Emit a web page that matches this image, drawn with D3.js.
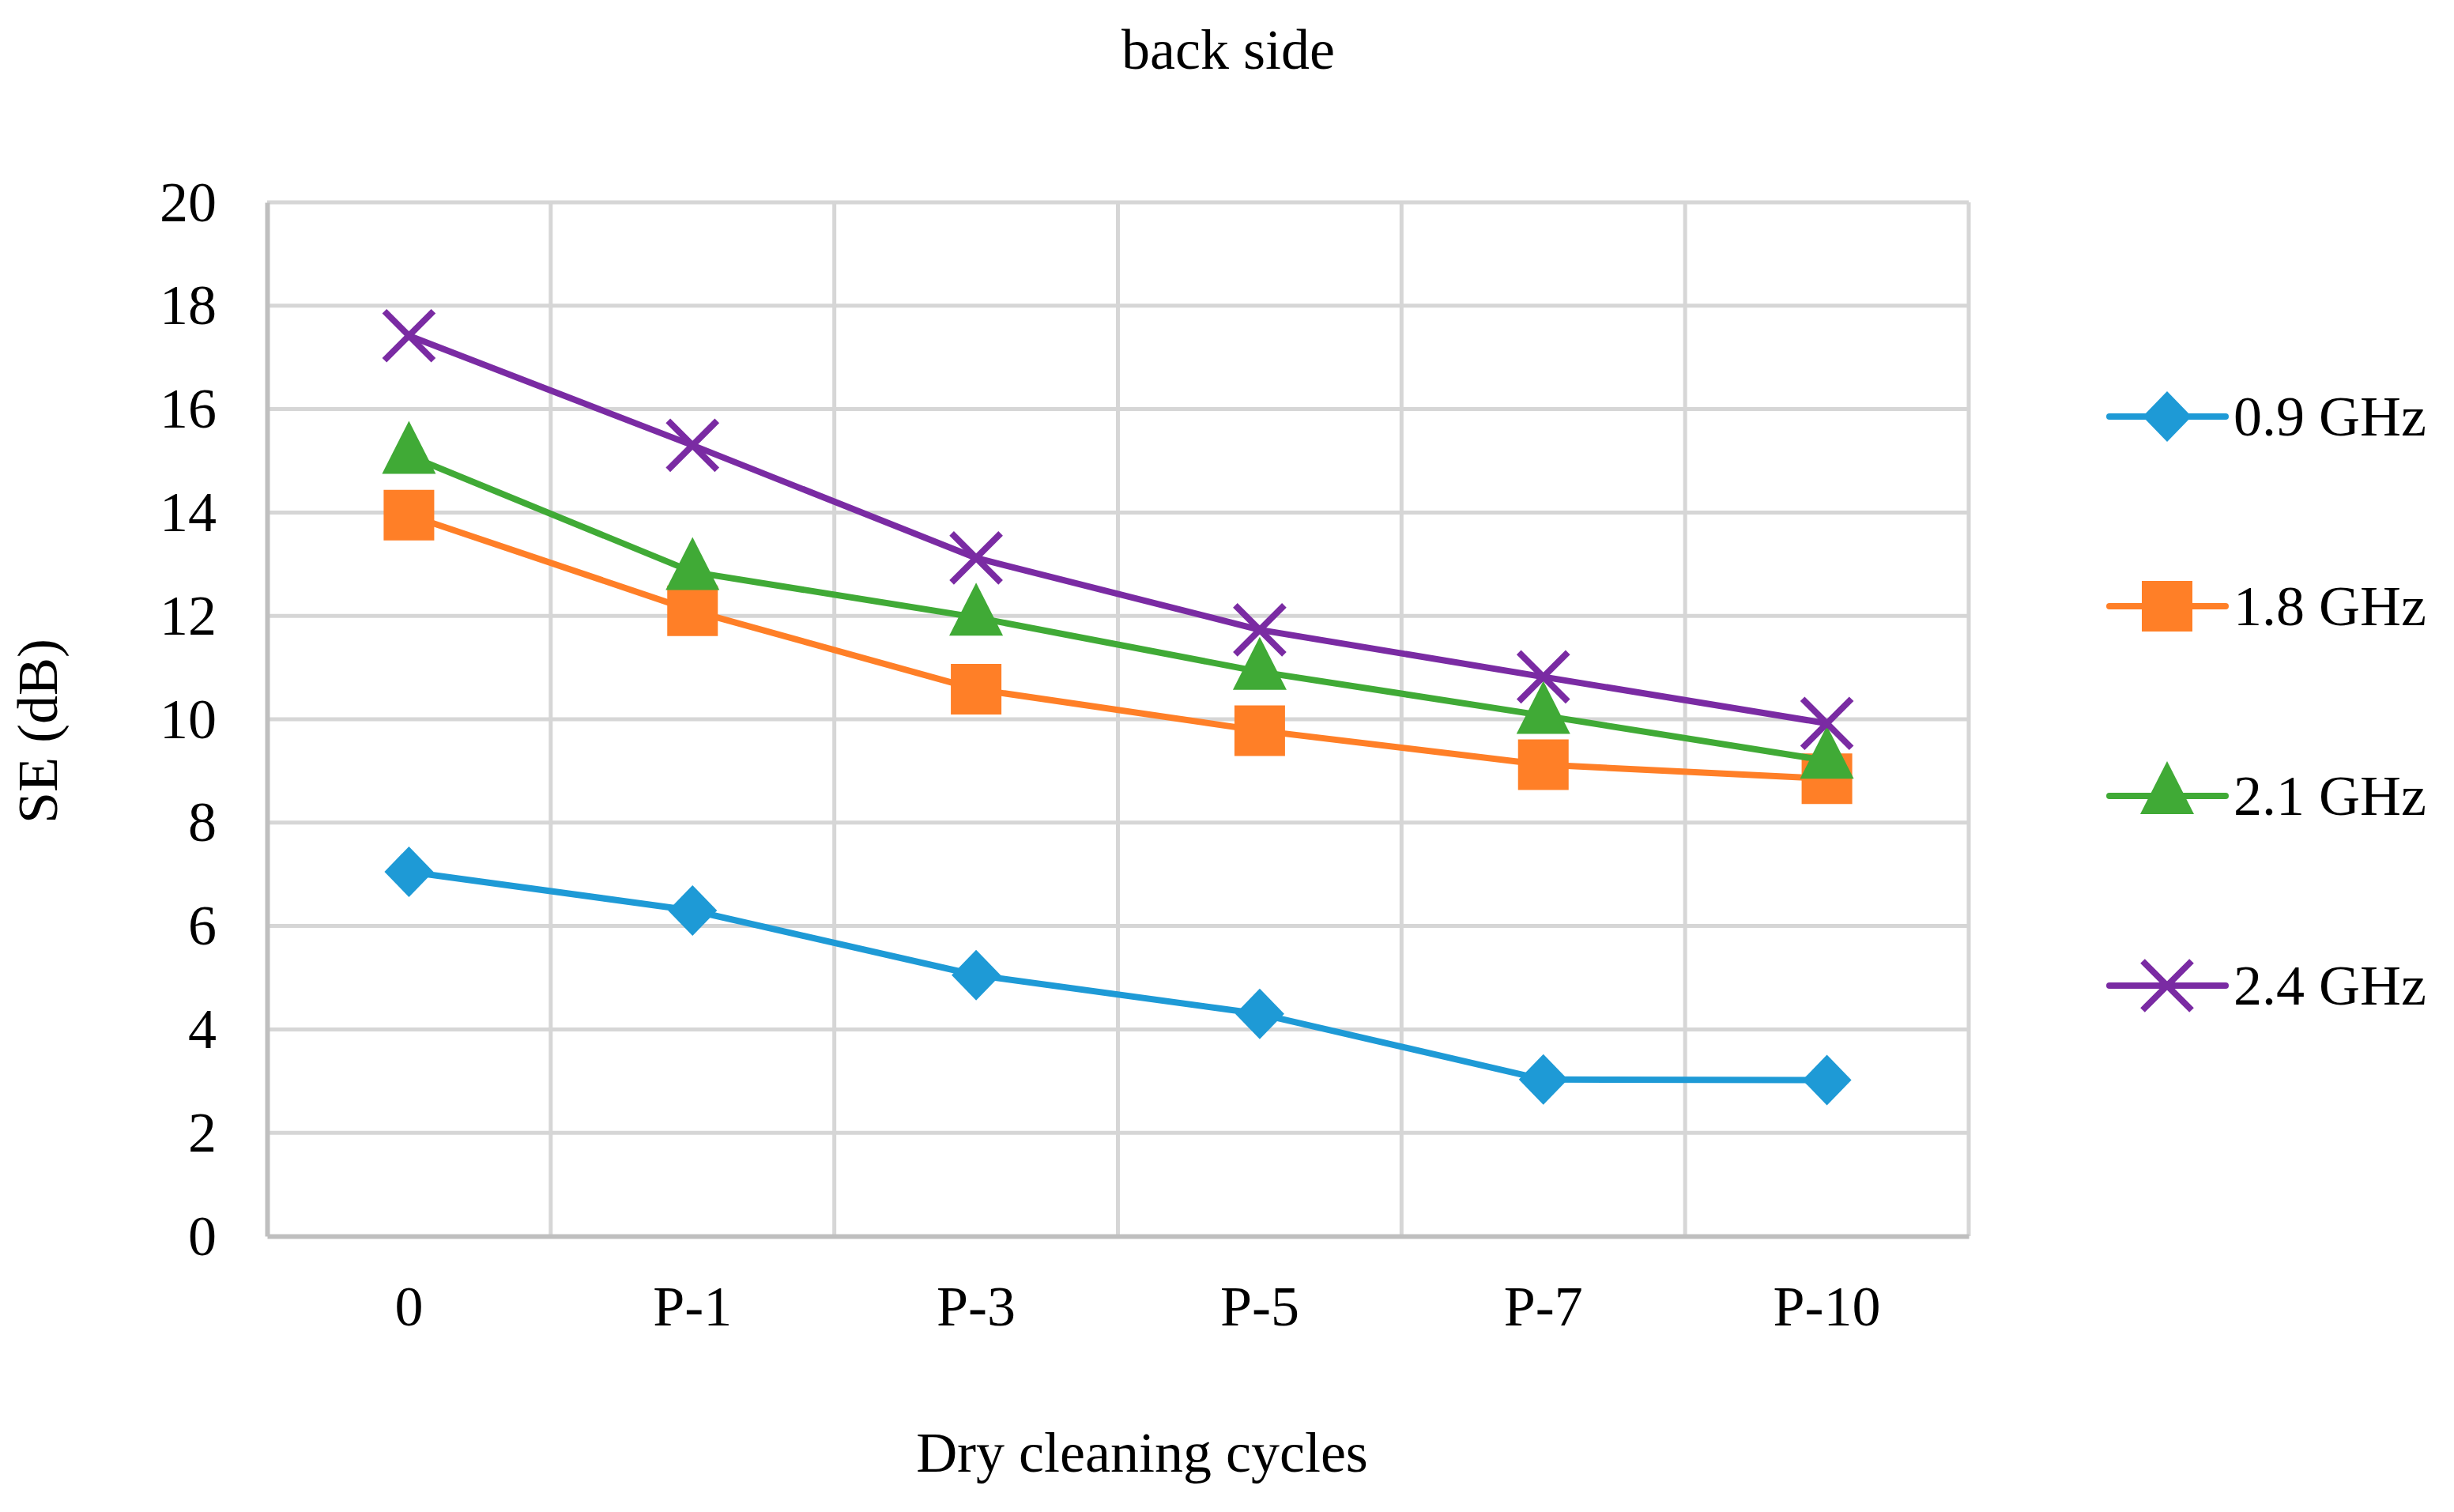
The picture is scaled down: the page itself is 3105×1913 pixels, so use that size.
<!DOCTYPE html>
<html>
<head>
<meta charset="utf-8">
<script src="https://cdn.jsdelivr.net/npm/d3@7"></script>
<style>
    body { margin: 0; background: #fff; }
    svg { display: block; font-family: "Liberation Serif", "Times New Roman", serif; }
</style>
</head>
<body>
<svg></svg>
<script>
// data
const cycles = ['0', 'P-1', 'P-3', 'P-5', 'P-7', 'P-10']
const seriesNames = ['0.9 GHz', '1.8 GHz', '2.1 GHz', '2.4 GHz']
const se09 = [7.05, 6.3, 5.05, 4.3, 3.03, 3.02]
const se18 = [13.95, 12.1, 10.58, 9.78, 9.12, 8.85]
const se21 = [15.1, 12.85, 11.97, 10.92, 10.07, 9.2]
const se24 = [17.42, 15.3, 13.12, 11.73, 10.82, 9.92]
const yTicks = [0, 2, 4, 6, 8, 10, 12, 14, 16, 18, 20]

const width = 3105,
    height = 1913

const svg = d3.select('svg').attr('width', width).attr('height', height)

const margin = { left: 338, right: 2491, top: 256, bottom: 1564 }

const series = [
    { name: seriesNames[0], values: se09, color: '#1E9AD6', symbol: 'diamond' },
    { name: seriesNames[1], values: se18, color: '#FF7F27', symbol: 'square' },
    { name: seriesNames[2], values: se21, color: '#40AA36', symbol: 'triangle' },
    { name: seriesNames[3], values: se24, color: '#7A2BA3', symbol: 'cross' }
]

const x = d3.scaleBand().domain(cycles).range([margin.left, margin.right])
const y = d3.scaleLinear().domain([0, 20]).range([margin.bottom, margin.top])
const cx = d => x(d) + x.bandwidth() / 2

// grid
const grid = svg.append('g')
grid.selectAll('line.h')
    .data(yTicks.slice(1))
    .enter().append('line')
    .attr('x1', margin.left).attr('x2', margin.right)
    .attr('y1', d => y(d)).attr('y2', d => y(d))
    .attr('stroke', '#d6d6d6').attr('stroke-width', 5)
grid.selectAll('line.v')
    .data(cycles.slice(1).map(c => x(c)).concat([margin.right]))
    .enter().append('line')
    .attr('x1', d => d).attr('x2', d => d)
    .attr('y1', margin.top).attr('y2', margin.bottom)
    .attr('stroke', '#d6d6d6').attr('stroke-width', 5)

// axes
const yAxis = svg.append('g')
    .attr('transform', 'translate(' + margin.left + ',0)')
    .call(d3.axisLeft(y).tickValues(yTicks).tickSize(0).tickPadding(64))
    .attr('font-family', null)
yAxis.select('.domain').attr('stroke', '#bfbfbf').attr('stroke-width', 6)
yAxis.selectAll('text').attr('font-size', 72).attr('fill', '#000')

const xAxis = svg.append('g')
    .attr('transform', 'translate(0,' + margin.bottom + ')')
    .call(d3.axisBottom(x).tickSize(0).tickPadding(62))
    .attr('font-family', null)
xAxis.select('.domain').attr('stroke', '#bfbfbf').attr('stroke-width', 6)
xAxis.selectAll('text').attr('font-size', 72).attr('fill', '#000')

function symbolPath(kind) {
    if (kind === 'diamond') return 'M0,-32L31,0L0,32L-31,0Z'
    if (kind === 'square') return 'M-32,-32H32V32H-32Z'
    if (kind === 'triangle') return 'M0,-44L34,23L-34,23Z'
    return 'M-31,-31L31,31M-31,31L31,-31'
}

function drawMarker(g, kind, color) {
    if (kind === 'cross') {
        g.append('path').attr('d', symbolPath(kind))
            .attr('fill', 'none').attr('stroke', color).attr('stroke-width', 8)
    } else {
        g.append('path').attr('d', symbolPath(kind)).attr('fill', color)
    }
}

const line = d3.line()
    .x((d, i) => cx(cycles[i]))
    .y(d => y(d))

series.forEach(s => {
    const g = svg.append('g')
    g.append('path')
        .datum(s.values)
        .attr('d', line)
        .attr('fill', 'none')
        .attr('stroke', s.color)
        .attr('stroke-width', 8)
        .attr('stroke-linejoin', 'round')
    s.values.forEach((v, i) => {
        const m = g.append('g').attr('transform', 'translate(' + cx(cycles[i]) + ',' + y(v) + ')')
        drawMarker(m, s.symbol, s.color)
    })
})

// legend
const legend = svg.append('g')
series.forEach((s, i) => {
    const ly = 527 + i * 240
    const g = legend.append('g').attr('transform', 'translate(0,' + ly + ')')
    g.append('line')
        .attr('x1', 2669).attr('x2', 2816)
        .attr('stroke', s.color).attr('stroke-width', 8).attr('stroke-linecap', 'round')
    const m = g.append('g').attr('transform', 'translate(2742,0)')
    drawMarker(m, s.symbol, s.color)
    g.append('text')
        .attr('x', 2826).attr('y', 0).attr('dy', '0.34em')
        .attr('font-size', 72)
        .text(s.name)
})

// titles
svg.append('text')
    .attr('x', 1554).attr('y', 87)
    .attr('text-anchor', 'middle')
    .attr('font-size', 72)
    .text('back side')

svg.append('text')
    .attr('x', 1445).attr('y', 1862)
    .attr('text-anchor', 'middle')
    .attr('font-size', 72)
    .text('Dry cleaning cycles')

svg.append('text')
    .attr('transform', 'translate(72,925) rotate(-90)')
    .attr('text-anchor', 'middle')
    .attr('font-size', 72)
    .text('SE (dB)')
</script>
</body>
</html>
